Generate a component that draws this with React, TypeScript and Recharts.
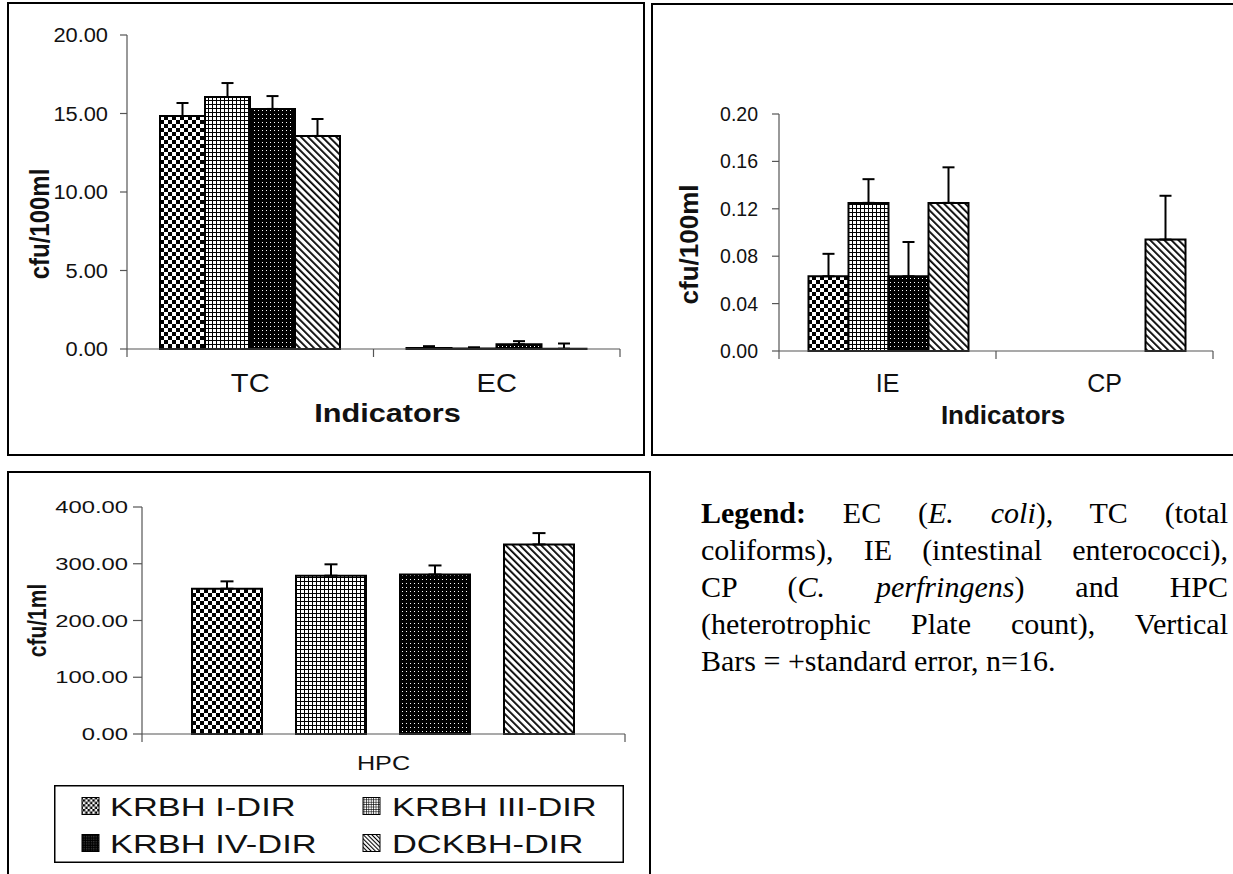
import React from 'react';
import { BarChart, Bar, XAxis, YAxis, ErrorBar, Legend, Label } from 'recharts';

const SERIES = ['KRBH I-DIR', 'KRBH III-DIR', 'KRBH IV-DIR', 'DCKBH-DIR'];
const SERIES_KEYS = ['s1', 's2', 's3', 's4'];

// top left panel: total coliforms and E. coli (cfu/100ml)
const TOP_LEFT_CATEGORIES = ['TC', 'EC'];
const TC_MEANS = [14.84, 16.05, 15.29, 13.57];
const TC_SE = [0.83, 0.89, 0.82, 1.08];
const EC_MEANS = [0.06, 0.03, 0.3, 0.02];
const EC_SE = [0.12, 0.08, 0.2, 0.33];
const TOP_LEFT_TICKS = [0, 5, 10, 15, 20];

// top right panel: intestinal enterococci and C. perfringens (cfu/100ml)
const TOP_RIGHT_CATEGORIES = ['IE', 'CP'];
const IE_MEANS = [0.063, 0.125, 0.063, 0.125];
const IE_SE = [0.019, 0.02, 0.029, 0.03];
const CP_MEANS = [0, 0, 0, 0.094];
const CP_SE = [0, 0, 0, 0.037];
const TOP_RIGHT_TICKS = [0, 0.04, 0.08, 0.12, 0.16, 0.2];

// bottom panel: heterotrophic plate count (cfu/1ml)
const BOTTOM_CATEGORIES = ['HPC'];
const HPC_MEANS = [256, 279, 281, 334];
const HPC_SE = [13, 20, 16, 20];
const BOTTOM_TICKS = [0, 100, 200, 300, 400];

const AXIS = '#555';
const TEXT = '#111';
const SANS = '"Liberation Sans", Arial, sans-serif';

type Row = Record<string, string | number | number[] | null>;

function buildRows(categories: string[], means: number[][], errors: number[][]): Row[] {
  return categories.map((name, c) => {
    const row: Row = { name };
    SERIES_KEYS.forEach((key, i) => {
      row[key] = means[c][i];
      row[`${key}Err`] = errors[c][i] > 0 ? [0, errors[c][i]] : null;
    });
    return row;
  });
}

const topLeftRows = buildRows(TOP_LEFT_CATEGORIES, [TC_MEANS, EC_MEANS], [TC_SE, EC_SE]);
const topRightRows = buildRows(TOP_RIGHT_CATEGORIES, [IE_MEANS, CP_MEANS], [IE_SE, CP_SE]);
const bottomRows = buildRows(BOTTOM_CATEGORIES, [HPC_MEANS], [HPC_SE]);

function Patterns({ prefix, scale }: { prefix: string; scale: number }) {
  const s = scale === 1 ? '' : `scale(${scale}) `;
  return (
    <>
      <pattern id={`${prefix}-s1`} width={8} height={8} patternUnits="userSpaceOnUse" patternTransform={s || undefined}>
        <rect width={8} height={8} fill="#fff" />
        <rect width={4} height={4} fill="#000" />
        <rect x={4} y={4} width={4} height={4} fill="#000" />
      </pattern>
      <pattern id={`${prefix}-s2`} width={4} height={4} patternUnits="userSpaceOnUse" patternTransform={s || undefined}>
        <rect width={4} height={4} fill="#fff" />
        <rect width={4} height={1} fill="#000" />
        <rect width={1} height={4} fill="#000" />
      </pattern>
      <pattern id={`${prefix}-s3`} width={4} height={4} patternUnits="userSpaceOnUse" patternTransform={s || undefined}>
        <rect width={4} height={4} fill="#000" />
        <rect x={2} y={2} width={1} height={1} fill="#fff" />
      </pattern>
      <pattern id={`${prefix}-s4`} width={5} height={5} patternUnits="userSpaceOnUse" patternTransform={`${s}rotate(-45)`}>
        <rect width={5} height={5} fill="#fff" />
        <rect width={1.8} height={5} fill="#000" />
      </pattern>
    </>
  );
}

const valueTick = (fontSize: number, sx: number) => (props: any) => {
  const { x, y, payload } = props;
  return (
    <text
      transform={`translate(${x},${y}) scale(${sx},1)`}
      textAnchor="end"
      dy="0.36em"
      fontSize={fontSize}
      fill={TEXT}
    >
      {Number(payload.value).toFixed(2)}
    </text>
  );
};

// Excel-style category axis: tick marks on the band edges, label in the middle
const categoryTick = (band: number, count: number, fontSize: number, sx: number, labelDy: number) => (props: any) => {
  const { x, y, payload, index } = props;
  const half = band / 2;
  return (
    <g>
      <line x1={x - half} x2={x - half} y1={y} y2={y + 8} stroke={AXIS} strokeWidth={1.2} />
      {index === count - 1 && <line x1={x + half} x2={x + half} y1={y} y2={y + 8} stroke={AXIS} strokeWidth={1.2} />}
      <text transform={`translate(${x},${y + labelDy}) scale(${sx},1)`} textAnchor="middle" fontSize={fontSize} fill={TEXT}>
        {payload.value}
      </text>
    </g>
  );
};

const xTitle = (text: string, fontSize: number, sx: number, dx: number, dy: number) => (props: any) => {
  const vb = props.viewBox || { x: 0, y: 0, width: 0, height: 0 };
  const cx = vb.x + vb.width / 2 + dx;
  return (
    <text transform={`translate(${cx},${vb.y + dy}) scale(${sx},1)`} textAnchor="middle" fontSize={fontSize} fontWeight="bold" fill={TEXT}>
      {text}
    </text>
  );
};

const yTitle = (text: string, fontSize: number, sx: number, cx: number, dy: number) => (props: any) => {
  const vb = props.viewBox || { x: 0, y: 0, width: 0, height: 0 };
  const cy = vb.y + vb.height / 2 + dy;
  return (
    <text
      transform={`translate(${vb.x + cx},${cy}) scale(${sx},1) rotate(-90)`}
      textAnchor="middle"
      dy="0.36em"
      fontSize={fontSize}
      fontWeight="bold"
      fill={TEXT}
    >
      {text}
    </text>
  );
};

const renderLegend = (props: any) => {
  const payload = props.payload ?? [];
  return (
    <svg width={570} height={78} style={{ display: 'block', fontFamily: SANS }}>
      <rect x={0.75} y={0.75} width={568.5} height={76.5} fill="#fff" stroke="#000" strokeWidth={1.5} />
      {payload.map((entry: any) => {
        const idx = SERIES.indexOf(entry.value);
        const col = idx % 2;
        const row = Math.floor(idx / 2);
        const ix = [28, 309][col];
        const tx = [56, 338][col];
        const cy = [21, 58][row];
        return (
          <g key={entry.value}>
            <rect x={ix} y={cy - 8.5} width={17} height={17} fill={`url(#lg-${SERIES_KEYS[idx]})`} stroke="#000" strokeWidth={1} />
            <text transform={`translate(${tx},${cy}) scale(1.3,1)`} dy="0.36em" fontSize={26.5} fill={TEXT}>
              {entry.value}
            </text>
          </g>
        );
      })}
    </svg>
  );
};

function seriesBars(capWidth: number) {
  return SERIES_KEYS.map((key, i) => (
    <Bar
      key={key}
      dataKey={key}
      name={SERIES[i]}
      fill={`url(#pt-${key})`}
      stroke="#000"
      strokeWidth={2}
      isAnimationActive={false}
    >
      <ErrorBar dataKey={`${key}Err`} width={capWidth} stroke="#000" strokeWidth={2} direction="y" isAnimationActive={false} />
    </Bar>
  ));
}

const panelBorder: React.CSSProperties = {
  position: 'absolute',
  border: '2px solid #000',
  boxSizing: 'border-box',
};

export default function App() {
  const justified: React.CSSProperties = { textAlign: 'justify', textAlignLast: 'justify' };

  return (
    <div style={{ position: 'absolute', left: 0, top: 0, width: 1233, height: 874, background: '#fff', overflow: 'hidden' }}>
      <svg width={0} height={0} style={{ position: 'absolute' }}>
        <defs>
          <Patterns prefix="pt" scale={1} />
          <Patterns prefix="lg" scale={0.6} />
        </defs>
      </svg>

      <div style={{ ...panelBorder, left: 7, top: 2, width: 638, height: 454 }} />
      <div style={{ ...panelBorder, left: 651, top: 3, width: 700, height: 453 }} />
      <div style={{ ...panelBorder, left: 7, top: 471, width: 644, height: 500 }} />

      {/* top left: TC / EC */}
      <div style={{ position: 'absolute', left: 0, top: 0 }}>
        <BarChart
          width={660}
          height={460}
          data={topLeftRows}
          margin={{ top: 35, right: 40, bottom: 11, left: 0 }}
          barCategoryGap={33}
          barGap={0}
          style={{ fontFamily: SANS }}
        >
          <XAxis
            dataKey="name"
            height={100}
            tickLine={false}
            tickSize={0}
            tickMargin={0}
            axisLine={{ stroke: AXIS, strokeWidth: 1.2 }}
            tick={categoryTick(493 / 2, 2, 26, 1.12, 43)}
            interval={0}
          >
            <Label content={xTitle('Indicators', 26, 1.18, 14, 73)} />
          </XAxis>
          <YAxis
            width={127}
            domain={[0, 20]}
            ticks={TOP_LEFT_TICKS}
            tickSize={7}
            tickMargin={12}
            axisLine={{ stroke: AXIS, strokeWidth: 1.2 }}
            tickLine={{ stroke: AXIS, strokeWidth: 1.2 }}
            tick={valueTick(19.5, 1.12)}
          >
            <Label content={yTitle('cfu/100ml', 24, 1.18, 39, 32)} />
          </YAxis>
          {seriesBars(6)}
        </BarChart>
      </div>

      {/* top right: IE / CP */}
      <div style={{ position: 'absolute', left: 640, top: 0 }}>
        <BarChart
          width={593}
          height={460}
          data={topRightRows}
          margin={{ top: 114, right: 20, bottom: 9, left: 0 }}
          barCategoryGap={29.5}
          barGap={0}
          style={{ fontFamily: SANS }}
        >
          <XAxis
            dataKey="name"
            height={100}
            tickLine={false}
            tickSize={0}
            tickMargin={0}
            axisLine={{ stroke: AXIS, strokeWidth: 1.2 }}
            tick={categoryTick(434 / 2, 2, 25, 1.0, 41)}
            interval={0}
          >
            <Label content={xTitle('Indicators', 26, 1.0, 7, 73)} />
          </XAxis>
          <YAxis
            width={139}
            domain={[0, 0.2]}
            ticks={TOP_RIGHT_TICKS}
            tickSize={7}
            tickMargin={14}
            axisLine={{ stroke: AXIS, strokeWidth: 1.2 }}
            tickLine={{ stroke: AXIS, strokeWidth: 1.2 }}
            tick={valueTick(19.5, 1.0)}
          >
            <Label content={yTitle('cfu/100ml', 26, 1.0, 49, 12)} />
          </YAxis>
          {seriesBars(6)}
        </BarChart>
      </div>

      {/* bottom: HPC with legend */}
      <div style={{ position: 'absolute', left: 0, top: 465 }}>
        <BarChart
          width={660}
          height={409}
          data={bottomRows}
          margin={{ top: 42, right: 35, bottom: 80, left: 0 }}
          barCategoryGap={50}
          barGap={34}
          style={{ fontFamily: SANS }}
        >
          <XAxis
            dataKey="name"
            height={60}
            tickLine={false}
            tickSize={0}
            tickMargin={0}
            axisLine={{ stroke: AXIS, strokeWidth: 1.2 }}
            tick={categoryTick(483, 1, 21, 1.2, 36)}
            interval={0}
          />
          <YAxis
            width={142}
            domain={[0, 400]}
            ticks={BOTTOM_TICKS}
            tickSize={9}
            tickMargin={5}
            axisLine={{ stroke: AXIS, strokeWidth: 1.2 }}
            tickLine={{ stroke: AXIS, strokeWidth: 1.2 }}
            tick={valueTick(17, 1.4)}
          >
            <Label content={yTitle('cfu/1ml', 21, 1.2, 37, 0)} />
          </YAxis>
          <Legend
            layout="horizontal"
            verticalAlign="middle"
            align="center"
            wrapperStyle={{ left: 54, top: 320, width: 570, height: 78 }}
            content={renderLegend}
          />
          {seriesBars(6.5)}
        </BarChart>
      </div>

      <div
        style={{
          position: 'absolute',
          left: 701,
          top: 494,
          width: 527,
          fontFamily: '"Liberation Serif", "Times New Roman", serif',
          fontSize: 30,
          lineHeight: '37px',
          color: '#000',
        }}
      >
        <div style={justified}>
          <b>Legend:</b> EC (<i>E. coli</i>), TC (total
        </div>
        <div style={justified}>coliforms), IE (intestinal enterococci),</div>
        <div style={justified}>
          CP (<i>C. perfringens</i>) and HPC
        </div>
        <div style={justified}>(heterotrophic Plate count), Vertical</div>
        <div>Bars = +standard error, n=16.</div>
      </div>
    </div>
  );
}
